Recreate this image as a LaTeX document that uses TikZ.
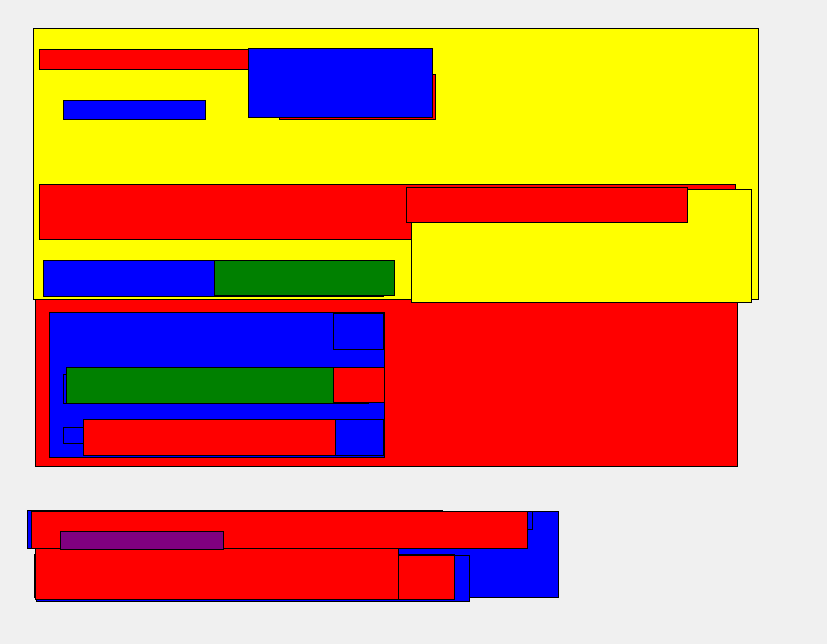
\documentclass[tikz,border=0pt]{standalone}
\usepackage{xcolor}
\usepackage{tikz}
\definecolor{bgray}{RGB}{240,240,240}
\definecolor{pred}{RGB}{255,0,0}
\definecolor{pblue}{RGB}{0,0,255}
\definecolor{pyellow}{RGB}{255,255,0}
\definecolor{pgreen}{RGB}{0,128,0}
\definecolor{ppurple}{RGB}{128,0,128}

\begin{document}
\begin{tikzpicture}[x=1pt,y=-1pt,
  box/.style={draw=black,line width=1pt},
  rbox/.style={box,fill=pred},
  bbox/.style={box,fill=pblue},
  ybox/.style={box,fill=pyellow},
  gbox/.style={box,fill=pgreen},
  vbox/.style={box,fill=ppurple}]
  \fill[bgray] (0,0) rectangle (827,644);
  \filldraw[rbox] (35.3,297) rectangle (737,466.7);
  \filldraw[ybox] (33.3,28.3) rectangle (758.3,299.3);
  \filldraw[rbox] (39.3,49.3) rectangle (248.3,69.3);
  \filldraw[rbox] (279.3,75) rectangle (435.7,119.3);
  \filldraw[bbox] (248.3,48.3) rectangle (432.7,117.7);
  \filldraw[bbox] (63.3,100.3) rectangle (205.7,119.3);
  \filldraw[rbox] (39.3,184.3) rectangle (735.7,239.3);
  \filldraw[ybox] (411.3,189.3) rectangle (751.3,302.3);
  \filldraw[rbox] (406.3,187.3) rectangle (687.3,222.3);
  \filldraw[bbox] (43.3,260.3) rectangle (383.3,296.3);
  \filldraw[gbox] (214.3,260.3) rectangle (394.7,295.3);
  \filldraw[bbox] (49.3,312) rectangle (384.7,457.7);
  \filldraw[bbox] (333.3,313.3) rectangle (383.7,349.3);
  \filldraw[bbox] (63.3,374) rectangle (368.7,403.3);
  \filldraw[gbox] (66.3,367.3) rectangle (333.3,403.3);
  \filldraw[rbox] (333.3,367.3) rectangle (384,402.3);
  \filldraw[bbox] (63.3,427.3) rectangle (83.3,443.3);
  \filldraw[bbox] (335.3,419.3) rectangle (383.7,455.7);
  \filldraw[rbox] (83.3,419.3) rectangle (335.3,455.7);
  \filldraw[bbox] (390,511.3) rectangle (558.3,597.7);
  \filldraw[bbox] (390,511.3) rectangle (532.7,529.3);
  \filldraw[bbox] (27.3,510.3) rectangle (442.7,548.7);
  \filldraw[rbox] (31.3,511.3) rectangle (527.7,548.7);
  \filldraw[rbox] (34,554) rectangle (454.3,597.7);
  \filldraw[bbox] (36,555.3) rectangle (469.7,601.3);
  \filldraw[rbox] (35.3,548.7) rectangle (398.3,599.3);
  \filldraw[rbox] (398.3,555.7) rectangle (454.3,599.3);
  \filldraw[vbox] (60.3,531.3) rectangle (223.7,549.7);
\end{tikzpicture}
\end{document}
